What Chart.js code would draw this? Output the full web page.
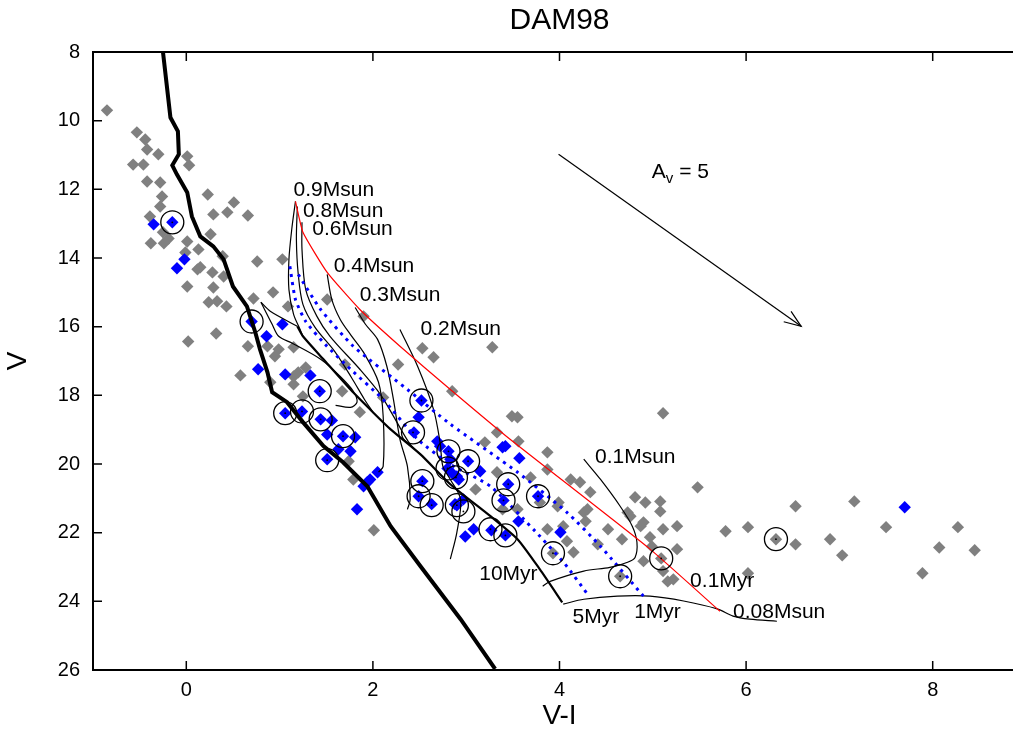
<!DOCTYPE html>
<html>
<head>
<meta charset="utf-8">
<script src="https://cdn.jsdelivr.net/npm/chart.js@4.4.1/dist/chart.umd.min.js"></script>
<style>
html,body{margin:0;padding:0;background:#fff;overflow:hidden;}
canvas{display:block;}
</style>
</head>
<body>
<canvas id="c" width="1040" height="733" style="width:1040px;height:733px"></canvas>
<script>
// ---------- data (V-I, V) ----------
const xTickValues = [0, 2, 4, 6, 8];
const yTickValues = [8, 10, 12, 14, 16, 18, 20, 22, 24, 26];

const greyStars = [
  [-0.85,9.70],[-0.53,10.34],[-0.44,10.55],[-0.42,10.84],[-0.30,10.98],[-0.57,11.28],[-0.46,11.28],
  [0.01,11.04],[0.03,11.30],[-0.42,11.77],[-0.28,11.80],[-0.26,12.21],[-0.28,12.50],[0.23,12.15],
  [0.51,12.38],[0.44,12.67],[0.29,12.73],[0.66,12.76],[-0.39,12.79],[-0.25,13.25],[-0.38,13.57],
  [-0.24,13.57],[-0.19,13.43],[0.01,13.52],[0.13,13.75],[0.26,13.31],[-0.01,13.84],[0.12,14.33],
  [0.28,14.42],[0.39,13.95],[0.76,14.10],[1.03,14.04],[0.40,14.54],[0.01,14.83],[0.29,14.86],
  [0.15,14.27],[0.24,15.29],[0.33,15.26],[0.43,15.41],[0.72,15.18],[0.93,15.00],[1.09,15.41],
  [1.51,15.21],[1.90,15.70],[0.32,16.20],[0.02,16.43],[0.66,16.57],[0.87,16.57],[0.99,16.66],
  [0.95,16.86],[1.15,16.60],[0.58,17.42],[0.90,17.62],[1.15,17.45],[1.28,17.19],[1.20,17.33],
  [1.15,17.68],[1.25,18.03],[1.67,17.88],[1.70,17.10],[2.11,18.06],[1.86,18.49],[1.79,20.45],
  [1.74,19.92],[2.01,21.93],[2.53,16.63],[2.65,16.89],[3.28,16.60],[2.27,17.10],[2.85,17.88],
  [3.49,18.61],[3.55,18.64],[3.33,19.08],[3.87,19.66],[3.56,19.34],[3.20,19.37],[4.12,20.45],
  [4.22,20.53],[4.33,20.82],[4.81,20.97],[4.92,21.12],[3.69,20.39],[3.33,20.24],[3.10,20.74],
  [3.98,21.23],[4.26,21.41],[4.04,21.81],[4.52,21.90],[4.73,21.41],[4.87,21.81],[3.87,21.90],
  [3.87,20.16],[3.55,21.32],[3.39,21.32],[5.08,21.09],[5.48,20.68],[5.08,21.38],[4.30,21.32],
  [3.79,21.12],[3.99,21.12],[4.76,21.52],[4.90,21.70],[4.67,22.19],[4.97,22.13],[5.11,21.90],
  [5.26,21.81],[4.28,21.67],[4.08,22.25],[4.41,22.34],[4.15,22.57],[4.90,22.83],[4.99,22.40],
  [5.26,22.48],[5.11,23.12],[5.22,23.36],[5.16,23.42],[5.78,21.96],[6.02,21.84],[6.53,21.23],
  [6.53,22.34],[6.90,22.19],[7.03,22.66],[7.16,21.09],[7.50,21.84],[8.07,22.43],[8.27,21.84],
  [8.45,22.51],[7.89,23.18],[6.02,23.18],[5.11,18.52],
  [3.93,22.60],[4.65,23.27],[5.09,22.75],[6.32,22.19]
];

const blueStars = [
  [-0.35,13.02],[-0.15,12.96],[-0.02,14.04],[-0.10,14.30],[0.70,15.85],[1.03,15.93],[0.86,16.28],
  [0.77,17.24],[1.06,17.39],[1.33,17.42],[1.43,17.88],[1.06,18.52],[1.24,18.47],[1.44,18.70],
  [1.56,18.73],[1.51,19.14],[1.68,19.19],[1.81,19.22],[1.76,19.63],[1.63,19.57],[1.51,19.86],
  [1.97,20.45],[2.05,20.24],[1.94,20.53],[1.90,20.65],[1.83,21.32],[2.52,18.15],[2.49,18.64],
  [2.44,19.08],[2.69,19.34],[2.81,19.63],[2.72,19.48],[3.02,19.92],[2.80,20.13],[2.90,20.36],
  [2.83,19.86],[3.15,20.21],[2.86,20.30],[2.92,20.45],[2.53,20.50],[2.49,20.94],[2.63,21.17],
  [2.90,21.20],[2.97,21.03],[3.42,19.48],[3.57,19.83],[3.39,19.51],[3.45,20.59],[3.40,21.06],
  [3.77,20.94],[3.56,21.67],[3.08,21.90],[2.99,22.11],[4.01,21.99],[3.27,21.93],[3.42,22.08],
  [2.88,21.17],[7.70,21.26]
];

const circledStars = [
  [-0.15,12.96],[0.70,15.85],[1.43,17.88],[1.06,18.52],[1.24,18.47],[1.44,18.70],[1.68,19.19],
  [1.51,19.89],[2.52,18.15],[2.43,19.08],[2.81,19.63],[3.02,19.92],[2.80,20.13],[2.89,20.39],
  [2.53,20.50],[2.49,20.94],[2.63,21.20],[2.90,21.20],[2.97,21.38],[3.45,20.59],[3.40,21.06],
  [3.77,20.94],[3.26,21.90],[3.42,22.08],[3.93,22.60],[4.65,23.27],[5.09,22.75],[6.32,22.19]
];

// isochrones
const mainSequence = [
  [-0.25,8.0],[-0.17,9.91],[-0.09,10.31],[-0.08,10.98],[-0.15,11.30],[-0.10,11.57],[0.01,12.09],
  [0.06,12.79],[0.15,13.37],[0.29,13.66],[0.40,14.04],[0.50,14.83],[0.65,15.41],[0.74,16.17],
  [0.79,16.66],[0.87,17.33],[0.92,17.91],[1.08,18.20],[1.25,18.78],[1.47,19.48],[1.68,19.95],
  [1.94,20.65],[2.19,21.81],[2.51,22.98],[2.94,24.52],[3.31,25.97]
];
const iso10Myr = [
  [1.19,15.99],[1.25,16.28],[1.47,16.95],[1.76,17.83],[2.00,18.49],[2.19,18.99],[2.51,19.72],
  [2.83,20.59],[3.26,21.52],[3.55,22.19],[3.79,23.07],[4.03,24.03]
];
const iso5Myr = [
  [1.11,14.24],[1.17,15.21],[1.28,15.85],[1.49,16.52],[1.76,17.24],[2.11,18.12],[2.48,19.28],
  [2.83,20.01],[3.26,20.65],[3.74,21.96],[4.06,22.92],[4.30,23.79]
];
const iso1Myr = [
  [1.20,14.48],[1.44,15.50],[1.79,16.57],[2.37,17.83],[2.83,18.84],[3.55,20.24],[4.08,21.41],
  [4.44,22.40],[4.90,23.85]
];
const iso01Myr = [
  [1.17,12.35],[1.25,13.25],[1.51,14.42],[1.86,15.50],[2.29,16.57],[2.83,17.83],[3.47,19.28],
  [4.97,22.48],[5.72,24.29]
];

// mass tracks
const track09 = [[1.17,12.35],[1.13,13.17],[1.10,14.04],[1.10,14.92],[1.15,15.64],[1.22,16.08],[1.25,16.28]];
const track08 = [[1.19,12.50],[1.18,13.46],[1.20,14.48],[1.25,15.35],[1.38,16.02],[1.59,16.72],[1.77,17.48],[1.91,18.12],[2.00,18.49]];
const track06 = [[1.24,12.96],[1.24,13.75],[1.28,14.92],[1.40,15.70],[1.54,16.28],[1.86,17.24],[2.08,17.97],[2.24,18.70],[2.40,19.43],[2.51,19.72]];
const track04 = [[1.51,14.48],[1.56,15.21],[1.65,15.79],[1.76,16.23],[1.90,16.75],[2.06,17.62],[2.11,18.61],[2.11,20.07],[2.06,20.24]];
const track03 = [[1.81,15.44],[1.92,15.93],[2.05,16.37],[2.15,17.16],[2.22,18.12],[2.29,19.28],[2.37,20.07],[2.40,21.03],[2.37,21.32]];
const track02 = [[2.29,16.08],[2.48,17.16],[2.65,18.41],[2.72,19.37],[2.75,20.07],[2.83,20.45],[2.94,21.03],[2.90,21.99],[2.83,22.77]];
const track01 = [[4.26,19.86],[4.44,20.45],[4.65,21.23],[4.78,21.81],[4.83,22.28],[4.81,22.72],[4.73,22.86],[4.54,23.01],[4.26,23.12],[3.90,23.42],[3.82,23.56]];
const track008 = [[4.04,24.08],[4.26,23.94],[4.62,23.85],[4.97,23.85],[5.33,23.99],[5.69,24.22],[5.86,24.43],[6.04,24.52],[6.33,24.58]];
const trackHook = [[0.80,15.29],[0.92,15.93],[0.99,16.28],[1.14,16.49],[1.44,16.95],[1.65,17.45],[1.79,17.88],[1.83,18.20],[1.76,18.35],[1.60,18.29]];
const trackHookUpper = [[0.80,15.29],[0.90,15.55],[1.19,15.99]];

// reddening vector A_V = 5
const reddening = [[3.99,10.98],[6.59,15.99]];

// annotation texts and anchors (V-I, V)
const noteTexts = ['0.9Msun','0.8Msun','0.6Msun','0.4Msun','0.3Msun','0.2Msun','0.1Msun','10Myr','5Myr','1Myr','0.1Myr','0.08Msun'];
const noteX = [1.15, 1.25, 1.35, 1.58, 1.86, 2.51, 4.38, 3.14, 4.14, 4.80, 5.40, 5.86];
const noteV = [12.03, 12.64, 13.17, 14.24, 15.09, 16.06, 19.81, 23.2, 24.45, 24.32, 23.4, 24.33];
const avLabelPos = [4.99, 11.5];

// ---------- chart ----------
const FONT = '"Liberation Sans", Arial, Helvetica, sans-serif';
Chart.defaults.font.family = FONT;
Chart.defaults.color = '#000';

const toXY = arr => arr.map(p => ({x: p[0], y: p[1]}));

function lineSet(data, color, width, opts) {
  return Object.assign({
    data: toXY(data), showLine: true, borderColor: color, borderWidth: width,
    pointRadius: 0, pointHoverRadius: 0, fill: false, tension: 0.3, order: 1
  }, opts || {});
}

const overlay = {
  id: 'overlay',
  afterDatasetsDraw(chart) {
    const {ctx, scales: {x, y}} = chart;
    ctx.save();
    // arrow head
    const x0 = x.getPixelForValue(reddening[0][0]), y0 = y.getPixelForValue(reddening[0][1]);
    const x1 = x.getPixelForValue(reddening[1][0]), y1 = y.getPixelForValue(reddening[1][1]);
    const ang = Math.atan2(y1 - y0, x1 - x0), L = 18, w = 0.36;
    ctx.strokeStyle = '#000'; ctx.lineWidth = 1.2;
    ctx.beginPath();
    ctx.moveTo(x1 - L * Math.cos(ang - w), y1 - L * Math.sin(ang - w));
    ctx.lineTo(x1, y1);
    ctx.lineTo(x1 - L * Math.cos(ang + w), y1 - L * Math.sin(ang + w));
    ctx.stroke();
    // text notes
    ctx.fillStyle = '#000';
    ctx.font = '21px ' + FONT;
    ctx.textBaseline = 'middle'; ctx.textAlign = 'left';
    noteTexts.forEach((t, i) => ctx.fillText(t, x.getPixelForValue(noteX[i]), y.getPixelForValue(noteV[i])));
    // A_V = 5
    let px = x.getPixelForValue(avLabelPos[0]), py = y.getPixelForValue(avLabelPos[1]);
    ctx.fillText('A', px, py);
    px += ctx.measureText('A').width;
    ctx.font = '15px ' + FONT;
    ctx.fillText('v', px, py + 7);
    px += ctx.measureText('v').width;
    ctx.font = '21px ' + FONT;
    ctx.fillText(' = 5', px, py);
    ctx.restore();
  },
  afterDraw(chart) {
    const {ctx, chartArea: a, scales: {x, y}} = chart;
    ctx.save();
    ctx.strokeStyle = '#000';
    ctx.lineWidth = 2;
    ctx.beginPath();
    ctx.moveTo(a.right, a.top); ctx.lineTo(a.left, a.top); ctx.lineTo(a.left, a.bottom); ctx.lineTo(a.right, a.bottom); ctx.lineTo(a.right, a.top);
    ctx.stroke();
    ctx.lineWidth = 1.5;
    ctx.beginPath();
    yTickValues.forEach(v => {
      const py = y.getPixelForValue(v);
      ctx.moveTo(a.left, py); ctx.lineTo(a.left + 9, py);
      ctx.moveTo(a.right, py); ctx.lineTo(a.right - 9, py);
    });
    xTickValues.forEach(v => {
      const px = x.getPixelForValue(v);
      ctx.moveTo(px, a.bottom); ctx.lineTo(px, a.bottom - 9);
      ctx.moveTo(px, a.top); ctx.lineTo(px, a.top + 9);
    });
    ctx.stroke();
    ctx.restore();
  }
};

new Chart(document.getElementById('c'), {
  type: 'scatter',
  data: {
    datasets: [
      {label: 'circled', data: toXY(circledStars), pointStyle: 'circle', pointRadius: 11.5, pointHoverRadius: 11.5,
       backgroundColor: 'rgba(0,0,0,0)', borderColor: '#000', borderWidth: 1.3, order: 0},
      {label: 'centres', data: toXY(circledStars), pointStyle: 'circle', pointRadius: 0.9, pointHoverRadius: 0.9,
       backgroundColor: '#000', borderWidth: 0, order: 0},
      lineSet(reddening, '#000', 1.2, {tension: 0}),
      lineSet(mainSequence, '#000', 4, {tension: 0}),
      lineSet(iso10Myr, '#000', 2.2, {tension: 0.2}),
      lineSet(iso5Myr, '#0000ff', 3, {borderDash: [3, 5], tension: 0.2}),
      lineSet(iso1Myr, '#0000ff', 3, {borderDash: [3, 5], tension: 0.2}),
      lineSet(iso01Myr, '#ff0000', 1.2, {tension: 0.15}),
      lineSet(track09, '#000', 1.2),
      lineSet(track08, '#000', 1.2),
      lineSet(track06, '#000', 1.2),
      lineSet(track04, '#000', 1.2),
      lineSet(track03, '#000', 1.2),
      lineSet(track02, '#000', 1.2),
      lineSet(track01, '#000', 1.2),
      lineSet(track008, '#000', 1.2),
      lineSet(trackHook, '#000', 1.2),
      lineSet(trackHookUpper, '#000', 1.2),
      {label: 'members', data: toXY(blueStars), pointStyle: 'rectRot', pointRadius: 6.2, pointHoverRadius: 6.2,
       backgroundColor: '#0000ff', borderWidth: 0, order: 2},
      {label: 'field', data: toXY(greyStars), pointStyle: 'rectRot', pointRadius: 6.2, pointHoverRadius: 6.2,
       backgroundColor: '#808080', borderWidth: 0, order: 3}
    ]
  },
  options: {
    responsive: false,
    devicePixelRatio: 1,
    animation: false,
    events: [],
    layout: {padding: {left: 0, right: 14, top: 0, bottom: 0}},
    plugins: {
      legend: {display: false},
      tooltip: {enabled: false},
      title: {display: true, text: 'DAM98', fullSize: false, color: '#000',
              font: {size: 30, weight: 'normal'}, padding: {top: 3, bottom: 13}}
    },
    scales: {
      x: {
        type: 'linear', min: -1, max: 9,
        afterFit: s => { s.height = 63; },
        afterBuildTicks: s => { s.ticks = xTickValues.map(v => ({value: v})); },
        grid: {display: false, drawTicks: false},
        border: {display: false},
        ticks: {padding: 8, maxRotation: 0, autoSkip: false, font: {size: 20}},
        title: {display: true, text: 'V-I', font: {size: 28}, padding: {top: 0, bottom: 0}}
      },
      y: {
        type: 'linear', min: 8, max: 26, reverse: true,
        afterFit: s => { s.width = 93; },
        afterBuildTicks: s => { s.ticks = yTickValues.map(v => ({value: v})); },
        grid: {display: false, drawTicks: false},
        border: {display: false},
        ticks: {padding: 13, font: {size: 20}, autoSkip: false},
        title: {display: true, text: 'V', font: {size: 28}, padding: {top: 1, bottom: 0}}
      }
    }
  },
  plugins: [overlay]
});
</script>
</body>
</html>
